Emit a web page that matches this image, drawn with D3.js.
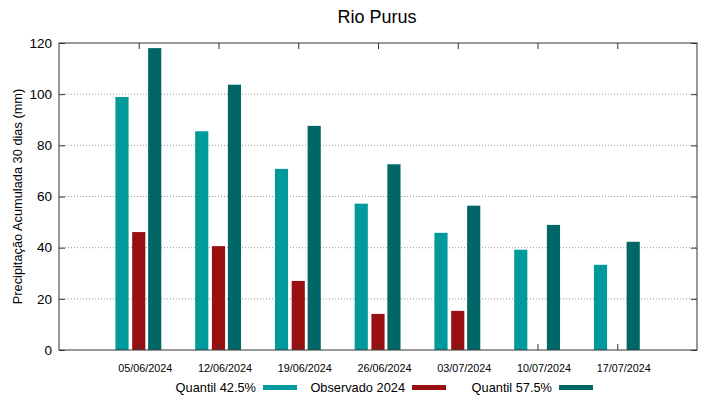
<!DOCTYPE html>
<html>
<head>
<meta charset="utf-8">
<script src="https://cdn.jsdelivr.net/npm/d3@7"></script>
<style>
  body { margin: 0; background: #fff; }
  text { font-family: "Liberation Sans", Arial, sans-serif; fill: #000; }
</style>
</head>
<body>
<svg id="chart" width="719" height="399"></svg>
<script>
// data
const dates = ['05/06/2024', '12/06/2024', '19/06/2024', '26/06/2024', '03/07/2024', '10/07/2024', '17/07/2024'];
const q425 = [98.9, 85.5, 70.8, 57.2, 45.8, 39.2, 33.3];
const obs2024 = [46.1, 40.6, 27.0, 14.1, 15.3, null, null];
const q575 = [118.0, 103.7, 87.6, 72.6, 56.4, 48.9, 42.3];
const yTicks = [0, 20, 40, 60, 80, 100, 120];

const series = [
  {name: 'Quantil 42.5%', values: q425, color: '#009a9a', off: -0.21},
  {name: 'Observado 2024', values: obs2024, color: '#9a1010', off: 0},
  {name: 'Quantil 57.5%', values: q575, color: '#006666', off: 0.2}
];

const svg = d3.select('#chart');
const m = {left: 59, right: 22, top: 43, bottom: 49};
const W = 719, H = 399;
const font = '"Liberation Sans", Arial, sans-serif';

const x = d3.scaleLinear().domain([0, dates.length + 1]).range([m.left, W - m.right]);
const y = d3.scaleLinear().domain([0, 120]).range([H - m.bottom, m.top]);
const barW = 0.165;

// gridlines
svg.append('g').selectAll('line')
  .data(yTicks.filter(t => t > 0 && t < 120))
  .enter().append('line')
  .attr('x1', m.left).attr('x2', W - m.right)
  .attr('y1', d => y(d)).attr('y2', d => y(d))
  .attr('stroke', '#999').attr('stroke-width', 1)
  .attr('stroke-dasharray', '1,2');

// bars
series.forEach(s => {
  svg.append('g').selectAll('rect')
    .data(s.values.map((v, i) => ({v, i})).filter(d => d.v !== null))
    .enter().append('rect')
    .attr('x', d => x(d.i + 1 + s.off - barW / 2))
    .attr('width', d => x(barW) - x(0))
    .attr('y', d => y(d.v))
    .attr('height', d => y(0) - y(d.v))
    .attr('fill', s.color);
});

// frame
svg.append('rect')
  .attr('x', m.left).attr('y', m.top)
  .attr('width', W - m.left - m.right).attr('height', H - m.top - m.bottom)
  .attr('fill', 'none').attr('stroke', '#333').attr('stroke-width', 1);

// y axis (inward ticks, gnuplot look)
const yAxis = svg.append('g').attr('transform', `translate(${m.left},0)`)
  .call(d3.axisLeft(y).tickValues(yTicks).tickSize(-6).tickPadding(7));
yAxis.select('.domain').remove();
yAxis.selectAll('line').attr('stroke', '#333');
yAxis.selectAll('text').style('font-size', '13.5px').style('font-family', font);

const yAxisR = svg.append('g').attr('transform', `translate(${W - m.right},0)`)
  .call(d3.axisRight(y).tickValues(yTicks).tickSize(-6).tickFormat(''));
yAxisR.select('.domain').remove();
yAxisR.selectAll('line').attr('stroke', '#333');

// x axis
const xt = d3.range(1, dates.length + 1);
const xAxis = svg.append('g').attr('transform', `translate(0,${H - m.bottom})`)
  .call(d3.axisBottom(x).tickValues(xt).tickSize(-6).tickPadding(14).tickFormat(d => dates[d - 1]));
xAxis.select('.domain').remove();
xAxis.selectAll('line').attr('stroke', '#333');
xAxis.selectAll('text').attr('dx', 6).style('font-size', '10.8px').style('font-family', font);

const xAxisT = svg.append('g').attr('transform', `translate(0,${m.top})`)
  .call(d3.axisTop(x).tickValues(xt).tickSize(-6).tickFormat(''));
xAxisT.select('.domain').remove();
xAxisT.selectAll('line').attr('stroke', '#333');

// title and y label
svg.append('text').attr('x', 377).attr('y', 23)
  .attr('text-anchor', 'middle').style('font-size', '18px').text('Rio Purus');

svg.append('text')
  .attr('transform', `translate(22,${(m.top + H - m.bottom) / 2}) rotate(-90)`)
  .attr('text-anchor', 'middle').style('font-size', '12.8px')
  .text('Precipitação Acumulada 30 dias (mm)');

// legend
const legX = [256, 405, 552];
const leg = svg.append('g');
series.forEach((s, i) => {
  leg.append('text').attr('x', legX[i]).attr('y', 392)
    .attr('text-anchor', 'end').style('font-size', '12.8px').text(s.name);
  leg.append('rect').attr('x', legX[i] + 7).attr('y', 385)
    .attr('width', 34).attr('height', 5).attr('fill', s.color);
});
</script>
</body>
</html>
